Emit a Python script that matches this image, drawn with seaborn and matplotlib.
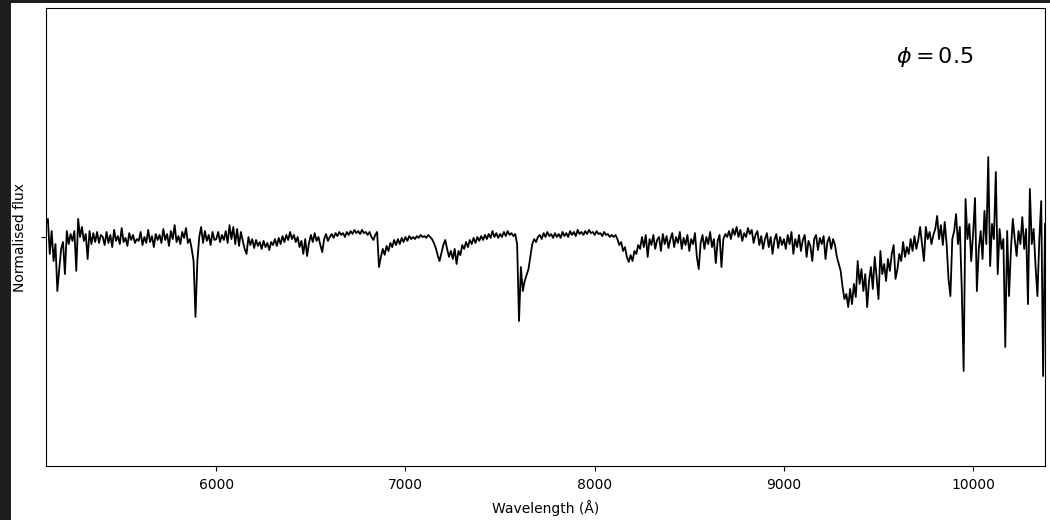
import numpy as np
import pandas as pd
import matplotlib
matplotlib.use("Agg")
import matplotlib.pyplot as plt
from matplotlib.patches import Rectangle
import seaborn as sns

# Segment boundaries (Angstrom) and fluxes
seg_edges = [5100, 5400, 5700, 6000, 6300, 6600, 6900, 7200, 7500, 7800,
             8100, 8400, 8700, 9000, 9300, 9600, 9900, 10200, 10380]

flux_5100 = [1.057, 1.079, 0.926, 1.026, 0.895, 0.969, 0.764, 0.860, 0.948, 0.978,
             0.838, 1.026, 0.969, 1.013, 0.983, 1.026, 0.852, 1.079, 1.000, 1.044,
             0.983, 1.013, 0.904, 1.026, 0.969, 1.017, 0.978, 1.022, 0.974, 1.009]
flux_5400 = [1.000, 0.965, 1.022, 0.974, 1.009, 0.956, 1.031, 0.983, 1.004, 0.969,
             1.039, 0.978, 0.996, 0.961, 1.017, 0.987, 1.009, 0.974, 0.991, 0.983,
             1.022, 0.965, 1.000, 0.974, 1.031, 0.978, 1.004, 0.956, 1.013, 0.987]
flux_5700 = [1.009, 0.974, 1.035, 0.987, 1.013, 0.961, 1.026, 0.991, 1.052, 0.978,
             1.004, 0.969, 1.022, 0.996, 1.039, 0.974, 0.991, 0.948, 0.895, 0.651,
             0.895, 1.000, 1.044, 0.974, 1.026, 0.983, 1.009, 0.965, 1.022, 0.987]
flux_6000 = [0.991, 1.022, 0.978, 1.009, 0.987, 1.026, 0.974, 1.052, 0.991, 1.044,
             0.969, 1.035, 0.961, 1.022, 0.983, 0.948, 0.926, 1.000, 0.965, 0.991,
             0.952, 0.987, 0.961, 0.978, 0.948, 0.983, 0.956, 0.974, 0.943, 0.978]
flux_6300 = [0.965, 0.991, 0.961, 0.996, 0.969, 1.004, 0.978, 1.009, 0.987, 1.022,
             0.991, 1.009, 0.978, 1.000, 0.956, 0.983, 0.926, 0.991, 0.917, 0.974,
             1.009, 0.978, 1.017, 0.983, 1.000, 0.965, 0.934, 0.991, 1.013, 0.983]
flux_6600 = [1.000, 1.013, 0.996, 1.017, 1.004, 1.022, 1.009, 1.017, 1.000, 1.022,
             1.009, 1.026, 1.013, 1.031, 1.017, 1.026, 1.013, 1.031, 1.017, 1.022,
             1.009, 1.022, 1.000, 0.987, 1.009, 1.022, 0.869, 0.913, 0.948, 0.922]
flux_6900 = [0.961, 0.939, 0.974, 0.956, 0.987, 0.965, 0.991, 0.969, 0.996, 0.978,
             1.000, 0.983, 1.004, 0.991, 1.000, 0.991, 1.004, 0.996, 1.009, 1.000,
             1.004, 0.996, 1.009, 1.000, 0.991, 0.974, 0.952, 0.921, 0.895, 0.930]
flux_7200 = [0.965, 0.987, 0.948, 0.913, 0.939, 0.904, 0.948, 0.882, 0.939, 0.921,
             0.965, 0.948, 0.978, 0.956, 0.987, 0.969, 0.996, 0.974, 1.000, 0.983,
             1.004, 0.987, 1.009, 0.991, 1.013, 0.996, 1.026, 1.000, 1.017, 0.996]
flux_7500 = [1.013, 1.000, 1.022, 1.004, 1.026, 1.009, 1.017, 1.004, 1.013, 0.969,
             0.633, 0.869, 0.764, 0.808, 0.834, 0.860, 0.913, 0.969, 0.991, 0.978,
             1.000, 1.009, 0.991, 1.017, 1.000, 1.022, 1.004, 1.013, 0.996, 1.017]
flux_7800 = [1.000, 1.013, 0.996, 1.022, 1.004, 1.017, 1.000, 1.026, 1.009, 1.022,
             1.004, 1.031, 1.013, 1.022, 1.009, 1.026, 1.013, 1.031, 1.017, 1.022,
             1.009, 1.026, 1.013, 1.017, 1.004, 1.022, 1.009, 1.013, 1.000, 1.009]
flux_8100 = [1.000, 1.009, 0.991, 0.965, 0.978, 0.939, 0.956, 0.913, 0.891, 0.921,
             0.895, 0.939, 0.926, 0.965, 0.948, 1.000, 0.956, 1.009, 0.913, 0.991,
             0.965, 1.009, 0.948, 0.987, 1.000, 0.939, 1.013, 0.969, 1.004, 0.952]
flux_8400 = [0.991, 1.017, 0.956, 1.000, 0.974, 1.022, 0.948, 0.996, 0.965, 1.009,
             0.939, 0.991, 0.969, 1.017, 0.913, 0.860, 0.974, 1.009, 0.948, 1.000,
             0.969, 1.022, 0.956, 0.991, 0.886, 0.983, 1.009, 0.869, 0.991, 1.013]
flux_8700 = [1.000, 1.026, 0.991, 1.035, 1.009, 1.044, 1.000, 1.031, 0.983, 1.017,
             1.000, 1.039, 1.013, 1.031, 0.974, 1.009, 1.026, 0.965, 1.004, 0.948,
             0.991, 1.017, 0.956, 1.000, 0.926, 0.987, 1.013, 0.952, 1.000, 0.965]
flux_9000 = [0.991, 0.948, 1.009, 0.969, 1.022, 0.926, 0.991, 0.956, 1.009, 0.939,
             0.987, 1.009, 0.913, 0.983, 0.961, 0.895, 0.991, 1.009, 0.943, 0.996,
             0.969, 1.004, 0.904, 0.978, 1.000, 0.948, 0.991, 0.965, 0.913, 0.882]
flux_9300 = [0.852, 0.782, 0.729, 0.751, 0.694, 0.773, 0.707, 0.795, 0.738, 0.895,
             0.795, 0.860, 0.764, 0.838, 0.694, 0.808, 0.869, 0.773, 0.913, 0.825,
             0.729, 0.939, 0.838, 0.882, 0.808, 0.904, 0.852, 0.926, 0.965, 0.817]
flux_9600 = [0.860, 0.926, 0.895, 0.978, 0.913, 0.956, 0.926, 0.991, 0.939, 1.004,
             0.948, 0.987, 1.044, 0.969, 0.895, 1.044, 0.991, 1.022, 0.969, 1.009,
             1.035, 1.092, 0.991, 1.052, 0.965, 1.066, 0.969, 0.817, 0.742, 0.991]
flux_9900 = [1.026, 1.100, 0.969, 1.044, 0.773, 0.415, 1.166, 0.991, 1.057, 0.895,
             1.013, 1.170, 0.764, 0.948, 1.026, 0.904, 1.114, 0.969, 1.349, 0.873,
             1.057, 0.991, 1.284, 0.838, 1.035, 0.948, 0.991, 0.520, 1.026, 0.742]
flux_10200 = [0.948, 1.079, 0.991, 0.917, 1.026, 0.969, 1.087, 0.948, 1.035, 0.707,
              1.210, 0.969, 1.035, 0.873, 0.742, 0.991, 1.157, 0.393, 1.057]

flux_segments = [flux_5100, flux_5400, flux_5700, flux_6000, flux_6300, flux_6600,
                 flux_6900, flux_7200, flux_7500, flux_7800, flux_8100, flux_8400,
                 flux_8700, flux_9000, flux_9300, flux_9600, flux_9900, flux_10200]

x_ticks = [6000, 7000, 8000, 9000, 10000]
y_ticks = [1.0]
phase_label = r"$\phi = 0.5$"

# Build the wavelength grid segment by segment
wl_parts = []
for i, seg in enumerate(flux_segments):
    last = i == len(flux_segments) - 1
    wl_parts.append(np.linspace(seg_edges[i], seg_edges[i + 1], len(seg), endpoint=last))
wavelength = np.concatenate(wl_parts)
flux = np.concatenate([np.asarray(s) for s in flux_segments])
df = pd.DataFrame({"wavelength": wavelength, "flux": flux})

fig = plt.figure(figsize=(10.5, 5.2), dpi=100, facecolor="#1e1e1e")
fig.patches.append(Rectangle((11 / 1050, 0), 1 - 11 / 1050, 1 - 3 / 520,
                             transform=fig.transFigure, facecolor="white",
                             edgecolor="none", zorder=-10))
ax = fig.add_axes([46 / 1050, 1 - 466 / 520, 999 / 1050, 458 / 520])

sns.lineplot(data=df, x="wavelength", y="flux", ax=ax, color="black",
             linewidth=1.3, estimator=None, sort=False)

ax.set_xlim(seg_edges[0], seg_edges[-1])
ax.set_ylim(0, 2)
ax.set_xticks(x_ticks)
ax.set_yticks(y_ticks)
ax.set_yticklabels([""])
ax.set_xlabel("Wavelength (Å)", fontsize=10, labelpad=6)
ax.set_ylabel("Normalised flux", fontsize=10)
ax.yaxis.set_label_coords(-19 / 999, 0.5)
ax.tick_params(labelsize=10)
ax.tick_params(axis="x", pad=5)
ax.text(0.89, 0.893, phase_label, transform=ax.transAxes, fontsize=16,
        ha="center", va="center")

fig.savefig("out.png", dpi=100, facecolor=fig.get_facecolor())
